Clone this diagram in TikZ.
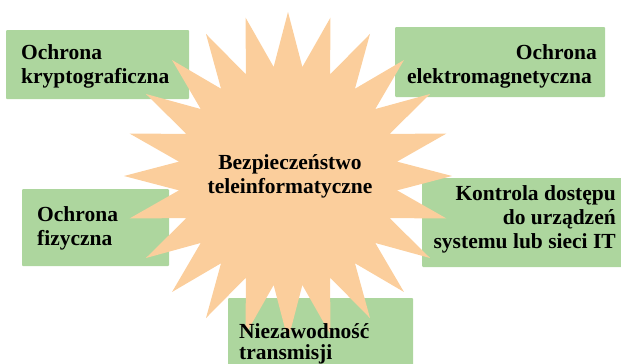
\documentclass[tikz,border=0pt]{standalone}
\usepackage{fontspec}
\setmainfont{Liberation Serif}
\usepackage{xcolor}

\definecolor{burstorange}{RGB}{251,206,156}
\definecolor{boxgreen}{RGB}{173,214,158}

\begin{document}
\begin{tikzpicture}[x=1pt, y=-1pt,
  box/.style={fill=boxgreen, rounded corners=1pt},
  burst/.style={fill=burstorange},
  boxtext/.style={inner sep=0pt, font=\bfseries\fontsize{21.5}{24}\selectfont}]

\useasboundingbox (0,0) rectangle (621,364);

% green fields
\fill[box] (6,30) rectangle (189,99);
\fill[box] (395,27) rectangle (605,97);
\fill[box] (22,189) rectangle (169,266);
\fill[box] (422,178) rectangle (626,267);
\fill[box] (228,298) rectangle (413,370);

% star
\begin{scope}[shift={(288,176)}]
\fill[burst] (0:164) \foreach \a in {0,15,...,345} { -- (\a:164) -- (\a+7.5:110) } -- cycle;
\end{scope}

\node[boxtext, align=center] (core) at (290,176.5) {Bezpiecze\'nstwo\\teleinformatyczne};

\node[boxtext, align=left, anchor=west] (crypto) at (21,66) {Ochrona\\kryptograficzna};
\node[boxtext, align=right, anchor=east] (emag) at (597,66) {Ochrona\\elektromagnetyczna\kern5pt};
\node[boxtext, align=left, anchor=west] (phys) at (37,228) {Ochrona\\fizyczna};
\node[boxtext, align=right, anchor=east] (access) at (616,219.5) {Kontrola dostępu\\do urządzeń\\systemu lub sieci IT};
\node[boxtext, align=left, anchor=west,
  font=\bfseries\fontsize{21.5}{20.5}\selectfont] (trans) at (239,344) {Niezawodność\\transmisji};

\end{tikzpicture}
\end{document}
